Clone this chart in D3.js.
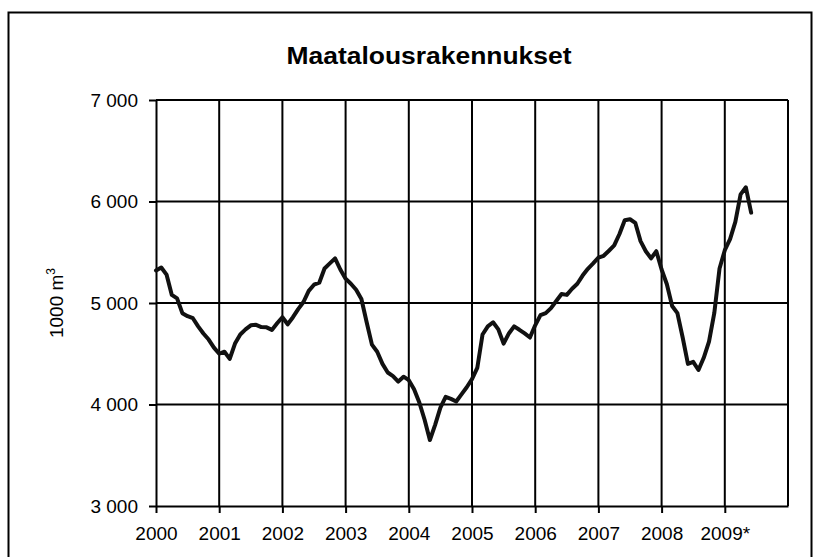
<!DOCTYPE html>
<html>
<head>
<meta charset="utf-8">
<script src="https://cdn.jsdelivr.net/npm/d3@7"></script>
<style>
  html, body { margin: 0; padding: 0; background: #fff; }
  svg { display: block; }
  text { font-family: "Liberation Sans", Arial, sans-serif; fill: #000; }
</style>
</head>
<body>
<svg id="chart" width="818" height="557"></svg>
<script>
// ---- data ----
const title = "Maatalousrakennukset";
const yearLabels = ["2000", "2001", "2002", "2003", "2004", "2005", "2006", "2007", "2008", "2009*"];
const monthsPerYear = 12;
const yTicks = [3000, 4000, 5000, 6000, 7000];
const yTickLabels = ["3 000", "4 000", "5 000", "6 000", "7 000"];
// monthly values, 1000 m3, Jan 2000 .. Jun 2009
const values = [
  5320, 5350, 5280, 5080, 5045, 4900, 4870, 4850, 4770, 4700, 4640, 4560,
  4500, 4520, 4450, 4600, 4690, 4740, 4780, 4785, 4763, 4760, 4735, 4800,
  4860, 4790, 4860, 4940, 5010, 5120, 5180, 5200, 5340, 5390, 5440, 5330,
  5240, 5190, 5130, 5040, 4810, 4590, 4520, 4400, 4315, 4280, 4225, 4274,
  4240, 4150, 4020, 3850, 3650, 3800, 3970, 4075, 4055, 4030, 4100, 4170,
  4250, 4360, 4690, 4770, 4810, 4740, 4600, 4700, 4770, 4736, 4700, 4660,
  4780, 4880, 4900, 4950, 5020, 5088, 5080, 5141, 5190, 5270, 5337, 5390,
  5446, 5465, 5515, 5567, 5680, 5815, 5825, 5790, 5610, 5510, 5440, 5510,
  5330, 5185, 4970, 4900, 4660, 4400, 4420, 4340, 4460, 4620, 4900, 5340,
  5520, 5630, 5800, 6070, 6140, 5890
];

// ---- layout ----
const svg = d3.select("#chart");
const plot = { left: 156, right: 788, top: 100, bottom: 506 };

svg.append("rect").attr("width", 818).attr("height", 557).attr("fill", "#fff");

// outer chart frame
svg.append("rect")
  .attr("x", 8.5).attr("y", 12.5)
  .attr("width", 803).attr("height", 580)
  .attr("fill", "none").attr("stroke", "#000").attr("stroke-width", 2);

const totalMonths = yearLabels.length * monthsPerYear;
const x = d3.scaleLinear().domain([0, totalMonths]).range([plot.left, plot.right]);
const y = d3.scaleLinear().domain([yTicks[0], yTicks[yTicks.length - 1]]).range([plot.bottom, plot.top]);

const yearTickValues = yearLabels.map((d, i) => i * monthsPerYear);

// gridlines
const grid = svg.append("g").attr("stroke", "#000").attr("stroke-width", 2);
grid.selectAll("line.h").data(yTicks.slice(1)).join("line")
  .attr("x1", plot.left).attr("x2", plot.right)
  .attr("y1", d => y(d)).attr("y2", d => y(d));
grid.selectAll("line.v").data(yearTickValues.slice(1).concat([totalMonths])).join("line")
  .attr("x1", d => x(d)).attr("x2", d => x(d))
  .attr("y1", plot.top).attr("y2", plot.bottom);

// y axis
const yAxis = d3.axisLeft(y)
  .tickValues(yTicks)
  .tickFormat((d, i) => yTickLabels[i])
  .tickSize(7).tickSizeOuter(0).tickPadding(11);
const gy = svg.append("g").attr("transform", `translate(${plot.left},0)`).call(yAxis);
gy.select(".domain").attr("stroke", "#000").attr("stroke-width", 2);
gy.selectAll(".tick line").attr("stroke", "#000").attr("stroke-width", 2);
gy.selectAll(".tick text").attr("font-size", 19).attr("font-family", "Liberation Sans, Arial, sans-serif").attr("fill", "#000");

// x axis
const xAxis = d3.axisBottom(x)
  .tickValues(yearTickValues)
  .tickFormat((d, i) => yearLabels[i])
  .tickSize(7).tickSizeOuter(0).tickPadding(14);
const gx = svg.append("g").attr("transform", `translate(0,${plot.bottom})`).call(xAxis);
gx.select(".domain").attr("stroke", "#000").attr("stroke-width", 2);
gx.selectAll(".tick line").attr("stroke", "#000").attr("stroke-width", 2);
gx.selectAll(".tick text").attr("font-size", 19).attr("font-family", "Liberation Sans, Arial, sans-serif").attr("fill", "#000");

// y axis title
const yt = svg.append("text")
  .attr("transform", `translate(63,${(plot.top + plot.bottom) / 2}) rotate(-90)`)
  .attr("text-anchor", "middle")
  .attr("font-size", 19);
yt.append("tspan").text("1000 m");
yt.append("tspan").attr("dy", -8).attr("font-size", 12).text("3");

// title
svg.append("text")
  .attr("x", 429).attr("y", 64)
  .attr("text-anchor", "middle")
  .attr("font-size", 23).attr("font-weight", "bold")
  .attr("textLength", 285).attr("lengthAdjust", "spacingAndGlyphs")
  .text(title);

// data line
const line = d3.line()
  .x((d, i) => x(i))
  .y(d => y(d))
  .curve(d3.curveLinear);

svg.append("path")
  .datum(values)
  .attr("fill", "none")
  .attr("stroke", "#111")
  .attr("stroke-width", 4)
  .attr("stroke-linejoin", "round")
  .attr("stroke-linecap", "round")
  .attr("d", line);
</script>
</body>
</html>
